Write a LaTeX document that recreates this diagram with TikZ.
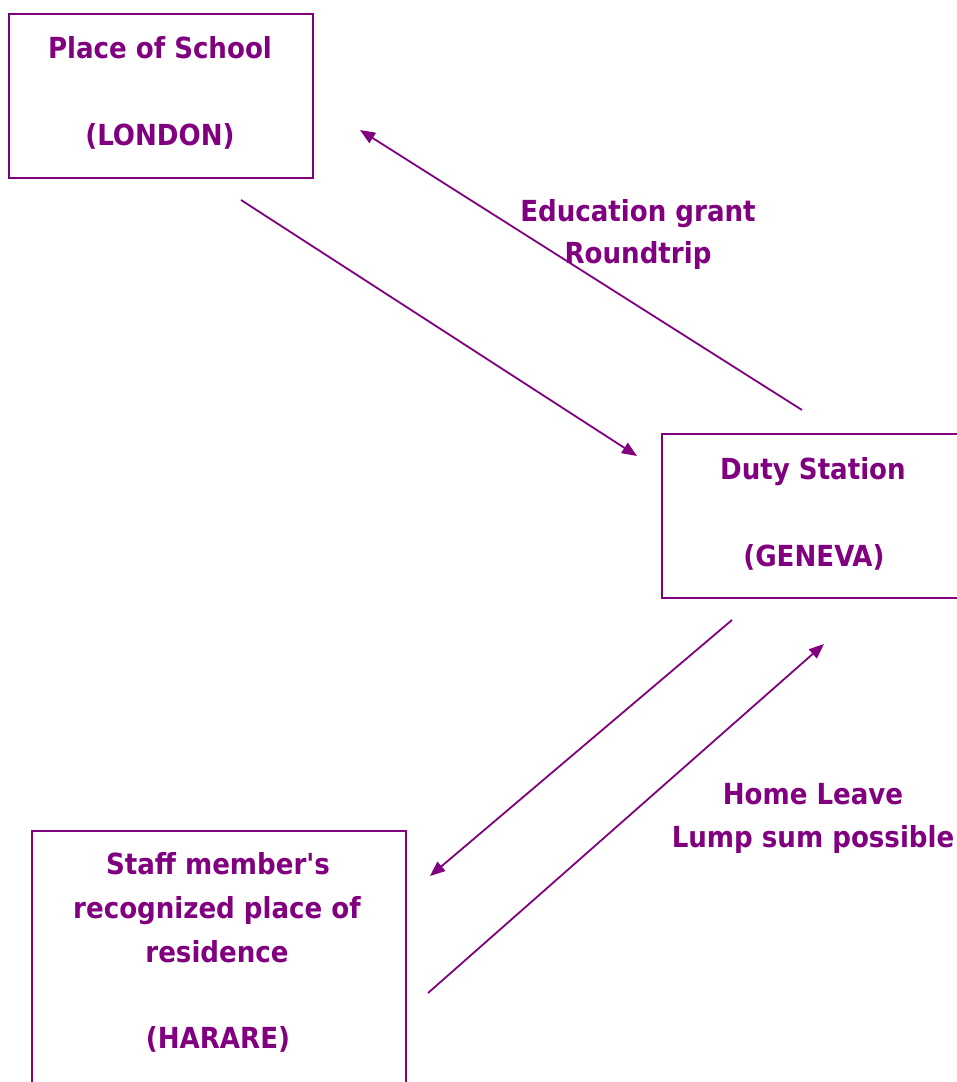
\documentclass[tikz,border=0pt]{standalone}
\usepackage{fontspec}
\setmainfont{DejaVu Sans Condensed}
\usetikzlibrary{arrows.meta}
\definecolor{pur}{HTML}{800080}
\begin{document}
\begin{tikzpicture}[x=1pt,y=-1pt,
  box/.style={draw=pur, line width=2pt, inner sep=0pt, anchor=north west},
  txt/.style={text=pur, font=\bfseries\fontsize{29}{35}\selectfont, anchor=base, inner sep=0pt},
  arr/.style={draw=pur, line width=1.8pt, -{Triangle[length=15pt,width=12pt]}}]
\useasboundingbox (0,0) rectangle (957,1082);
\clip (0,0) rectangle (957,1082);
% boxes
\node[box, minimum width=304pt, minimum height=164pt] (london) at (8,13) {};
\node[box, minimum width=340pt, minimum height=164pt] (geneva) at (661,433) {};
\node[box, minimum width=374pt, minimum height=300pt] (harare) at (31,830) {};
% box texts
\node[txt] (l1) at (160,58) {Place of School};
\node[txt] (l2) at (160,145) {(LONDON)};
\node[txt] (g1) at (813,479) {Duty Station};
\node[txt] (g2) at (814,566) {(GENEVA)};
\node[txt] (h1) at (218,874) {Staff member\textquotesingle s};
\node[txt] (h2) at (217,918) {recognized place of};
\node[txt] (h3) at (217,962) {residence};
\node[txt] (h4) at (218,1048) {(HARARE)};
% labels
\node[txt] (e1) at (638,221) {Education grant};
\node[txt] (e2) at (638,263) {Roundtrip};
\node[txt] (m1) at (813,804) {Home Leave};
\node[txt] (m2) at (813,847) {Lump sum possible};
% connector ends
\coordinate (a1s) at (241,200); \coordinate (a1e) at (637,456);
\coordinate (a2s) at (802,410); \coordinate (a2e) at (360,130);
\coordinate (a3s) at (732,620); \coordinate (a3e) at (430,876);
\coordinate (a4s) at (428,993); \coordinate (a4e) at (824,644);
\draw[arr] (a1s) -- (a1e);
\draw[arr] (a2s) -- (a2e);
\draw[arr] (a3s) -- (a3e);
\draw[arr] (a4s) -- (a4e);
\end{tikzpicture}
\end{document}
